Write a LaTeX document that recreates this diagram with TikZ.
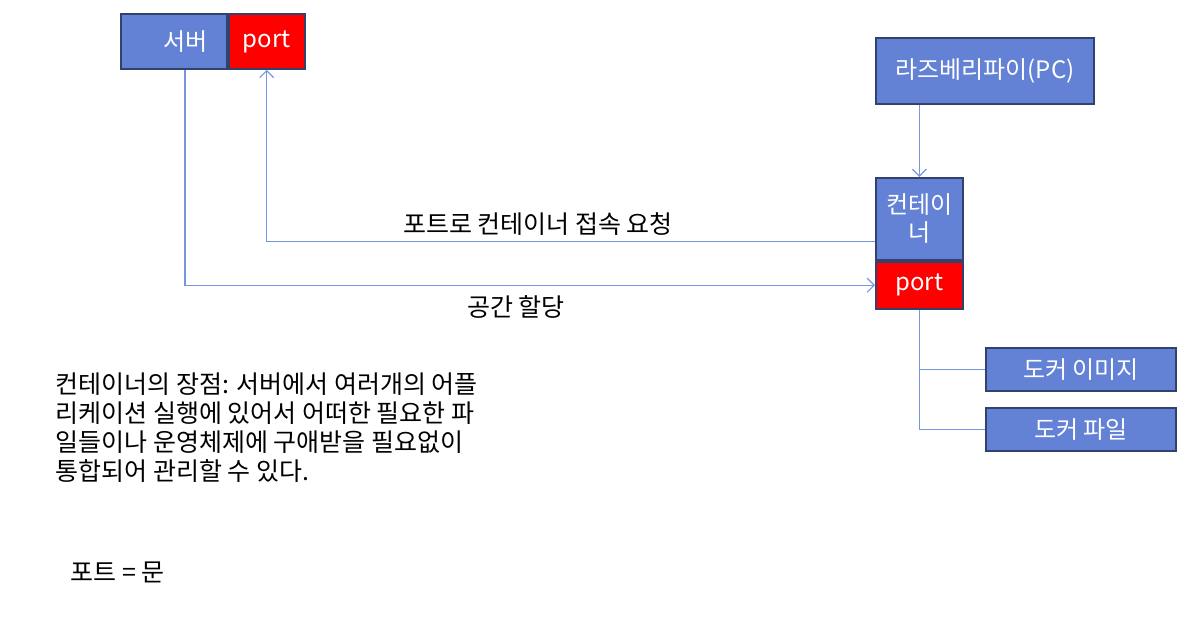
\documentclass[tikz,border=0pt]{standalone}
\usepackage{fontspec}
\setmainfont{Noto Sans CJK KR}
\usepackage{tikz}
\usetikzlibrary{arrows.meta,positioning,calc}
\definecolor{boxblue}{RGB}{99,130,214}
\definecolor{boxedge}{RGB}{50,66,110}
\definecolor{portred}{RGB}{255,0,0}
\definecolor{linkblue}{RGB}{118,150,226}
\tikzset{
  box/.style={draw=boxedge,line width=0.9pt,fill=boxblue,text=white,align=center,
              font=\fontsize{12}{14}\selectfont,inner sep=2pt,anchor=north west},
  portbox/.style={box,fill=portred},
  link/.style={linkblue,line width=0.6pt},
  larrow/.style={link,-{Straight Barb[length=3.5pt,width=7pt]}},
  note/.style={font=\fontsize{12.5}{14.5}\selectfont,text=black,inner sep=0pt},
}

\begin{document}
\begin{tikzpicture}[x=0.5pt,y=-0.5pt]
    \useasboundingbox (0,0) rectangle (1199,621);
    % boxes
    \node[box,minimum width=53pt,minimum height=27.5pt] (srv) at (120,13) {\hspace*{12pt}서버};
    \node[portbox,minimum width=38pt,minimum height=27.5pt,right=0pt of srv] (srvport) {port};
    \node[box,minimum width=109pt,minimum height=33pt] (pi) at (875,37) {라즈베리파이(PC)};
    \node[box,minimum width=43.5pt,minimum height=41pt,text width=38pt] (ctr) at (875,177) {컨테이\\너};
    \node[portbox,minimum width=43.5pt,minimum height=23.5pt,below=0pt of ctr] (ctrport) {port};
    \node[box,minimum width=95pt,minimum height=21.5pt] (dimg) at (985,347) {도커 이미지};
    \node[box,minimum width=95pt,minimum height=21.5pt] (dfile) at (985,407) {도커 파일};
    % connectors
    \draw[larrow] (pi.south -| ctr.north) -- (ctr.north);
    \draw[larrow] ([yshift=9.5pt]ctr.south west) -| node[note,pos=0.277,above=3pt]{포트로 컨테이너 접속 요청} (srvport.south);
    \draw[larrow] ([xshift=5.5pt]srv.south) |- node[note,pos=0.74,below=5pt]{공간 할당} (ctrport.west);
    \draw[link] (ctrport.south) |- (dimg.west);
    \draw[link] (ctrport.south) |- (dfile.west);
    % notes
    \node[note,anchor=north west,align=left] (adv) at (55,372)
      {컨테이너의 장점: 서버에서 여러개의 어플\\
       리케이션 실행에 있어서 어떠한 필요한 파\\
       일들이나 운영체제에 구애받을 필요없이\\
       통합되어 관리할 수 있다.};
    \node[note,anchor=west] (door) at (70,572) {포트 = 문};
\end{tikzpicture}
\end{document}
